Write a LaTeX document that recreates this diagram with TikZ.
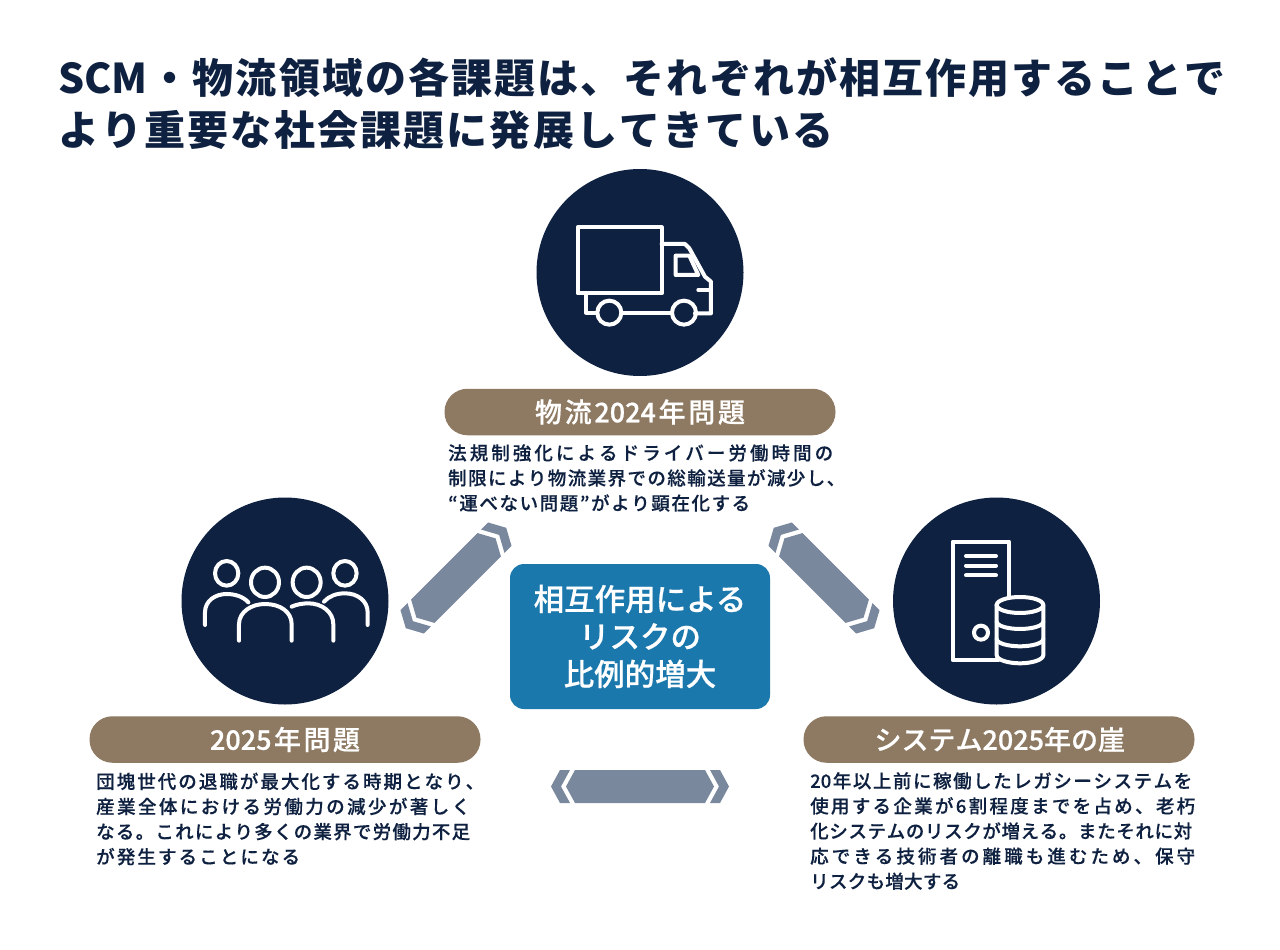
\documentclass[tikz,border=0pt]{standalone}
\usepackage{fontspec}
\setmainfont{Noto Sans CJK JP}
\newfontfamily\medf[FakeBold=0.25]{Noto Sans CJK JP Medium}
\newfontfamily\semif[FakeBold=0.6]{Noto Sans CJK JP Medium}
\definecolor{navy}{HTML}{0F2140}
\definecolor{tan}{HTML}{8E7A62}
\definecolor{teal}{HTML}{1B78AC}
\definecolor{slate}{HTML}{7A889E}
\newXeTeXintercharclass\jpclass
\newcount\jpc
\newcommand\setjp[2]{\jpc=#1\relax\loop\XeTeXcharclass\jpc=\jpclass\advance\jpc 1\relax\ifnum\jpc<#2\repeat}
\setjp{"3000}{"3100}
\setjp{"4E00}{"A000}
\setjp{"FF00}{"FFF0}
\XeTeXinterchartoks\jpclass\jpclass={\hskip 0pt plus 1fil\relax}
\XeTeXinterchartoks\jpclass 0={\hskip 0pt plus 1fil\relax}
\XeTeXinterchartoks 0 \jpclass={\hskip 0pt plus 1fil\relax}
\newcommand\fl[2]{\makebox[#1pt][s]{\XeTeXinterchartokenstate=1 #2}}
\newcommand\dblarrow[3]{%
\begin{scope}[shift={(#1)},rotate=#2]
\fill[slate] (-#3+15,0)--(-#3+24,-16.5)--(#3-24,-16.5)--(#3-15,0)--(#3-24,16.5)--(-#3+24,16.5)--cycle;
\fill[slate] (#3,0)--(#3-9,-16.5)--(#3-19,-16.5)--(#3-10,0)--(#3-19,16.5)--(#3-9,16.5)--cycle;
\fill[slate] (-#3,0)--(-#3+9,-16.5)--(-#3+19,-16.5)--(-#3+10,0)--(-#3+19,16.5)--(-#3+9,16.5)--cycle;
\end{scope}}
\tikzset{
 disc/.style={circle,fill=navy,inner sep=0pt,minimum size=207pt},
 pill/.style={fill=tan,rounded corners=23pt,minimum width=391pt,minimum height=46.5pt,inner sep=0pt,text=white,font=\fontsize{27}{32}\selectfont\semif},
 body/.style={anchor=west,inner sep=0pt,align=left,text=navy,font=\fontsize{18.5}{25.1}\selectfont\medf},
 icon/.style={draw=white,line width=4pt,line join=round,line cap=round},
}
\begin{document}
\begin{tikzpicture}[x=1pt,y=-1pt]
\useasboundingbox (0,0) rectangle (1280,950);
\fill[white] (0,0) rectangle (1280,950);
\node[anchor=west,inner sep=0pt,align=left,text=navy,font=\fontsize{41}{52}\selectfont\bfseries] (title) at (58,104)
 {\fl{1167}{SCM・物流領域の各課題は、それぞれが相互作用することで}\\\fl{775}{より重要な社会課題に発展してきている}};
\node[disc] (truck) at (640,272.5) {};
\node[disc] (people) at (285,601) {};
\node[disc] (server) at (996.5,601) {};
\node[pill] (p1) at (640,412) {\fl{210}{物流2024年問題}};
\node[pill] (p2) at (285,739.5) {\fl{150}{2025年問題}};
\node[pill] (p3) at (999,739.5) {\fl{249}{システム2025年の崖}};
\node[body] (t1) at (448,478) {\fl{385}{法規制強化によるドライバー労働時間の}\\\fl{397}{制限により物流業界での総輸送量が減少し、}\\\fl{302}{“運べない問題”がより顕在化する}};
\node[body] (t2) at (96,819) {\fl{388}{団塊世代の退職が最大化する時期となり、}\\\fl{374}{産業全体における労働力の減少が著しく}\\\fl{374}{なる。これにより多くの業界で労働力不足}\\\fl{204}{が発生することになる}};
\node[body] (t3) at (810,831) {\fl{382}{20年以上前に稼働したレガシーシステムを}\\\fl{385}{使用する企業が6割程度までを占め、老朽}\\\fl{382}{化システムのリスクが増える。またそれに対}\\\fl{385}{応できる技術者の離職も進むため、保守}\\\fl{150}{リスクも増大する}};
\node[fill=teal,rounded corners=14pt,minimum width=260pt,minimum height=145pt,inner sep=0pt,text=white,align=center,font=\fontsize{30.5}{37.5}\selectfont\semif] (core) at (640,636.5) {相互作用による\\リスクの\\比例的増大};
\dblarrow{456,578}{45}{71}
\dblarrow{824,578}{-45}{71}
\dblarrow{640,786.5}{0}{89}
% truck
\begin{scope}[shift={(530,165)},x=0.3333pt,y=-0.3333pt]
\draw[icon] (143,187) rectangle (395,385);
\draw[icon] (395,237)--(465,237)--(478,250)--(525,335)--(543,350)--(543,445)--(495,445);
\draw[icon] (168,385)--(168,443)--(200,443);
\draw[icon] (278,443)--(425,443);
\draw[icon] (238,443) circle[radius=36];
\draw[icon] (462,443) circle[radius=36];
\draw[icon] (437,272)--(478,272)--(505,330)--(437,330)--cycle;
\draw[icon] (505,375)--(543,375);
\end{scope}
% people
\begin{scope}[shift={(175,495)},x=0.3333pt,y=-0.3333pt]
\draw[icon] (155,235) circle[x radius=35,y radius=37];
\draw[icon] (270,262) circle[x radius=42,y radius=44];
\draw[icon] (395,262) circle[x radius=42,y radius=44];
\draw[icon] (510,235) circle[x radius=35,y radius=37];
\draw[icon] (90,390)--(90,352) .. controls (90,318) and (120,297) .. (155,297) .. controls (180,297) and (205,305) .. (220,322);
\draw[icon] (192,437)--(192,388) .. controls (192,350) and (230,327) .. (270,327) .. controls (315,327) and (350,350) .. (350,388)--(350,437);
\draw[icon] (350,335) .. controls (365,328) and (385,325) .. (400,325) .. controls (440,325) and (475,350) .. (475,388)--(475,437);
\draw[icon] (447,320) .. controls (462,303) and (485,295) .. (510,295) .. controls (548,295) and (578,318) .. (578,352)--(578,390);
\end{scope}
% server
\begin{scope}[shift={(885,495)},x=0.3333pt,y=-0.3333pt]
\draw[icon] (372,305)--(372,140)--(203,140)--(203,495)--(340,495);
\draw[icon] (243,183)--(333,183);
\draw[icon] (243,212)--(333,212);
\draw[icon] (243,241)--(333,241);
\draw[icon] (288,413) circle[radius=21];
\draw[icon] (405,330) ellipse[x radius=70,y radius=24];
\draw[icon] (335,330)--(335,480) .. controls (335,495) and (370,505) .. (405,505) .. controls (440,505) and (475,495) .. (475,480)--(475,330);
\draw[icon] (335,380) .. controls (335,393) and (370,402) .. (405,402) .. controls (440,402) and (475,393) .. (475,380);
\draw[icon] (335,432) .. controls (335,445) and (370,454) .. (405,454) .. controls (440,454) and (475,445) .. (475,432);
\end{scope}
\end{tikzpicture}
\end{document}
